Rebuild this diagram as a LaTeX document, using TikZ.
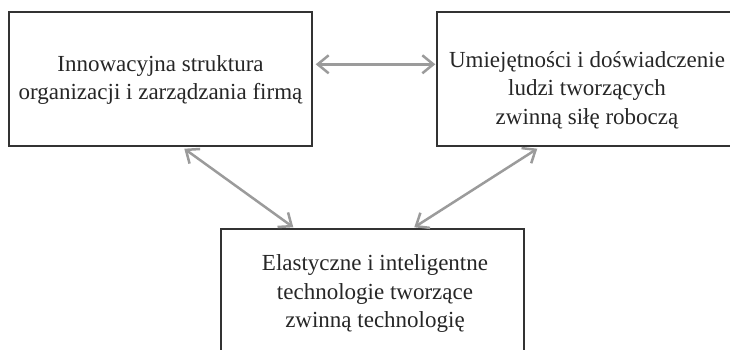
\documentclass[tikz,border=0pt]{standalone}
\usepackage{fontspec}
\setmainfont{Liberation Serif}
\usetikzlibrary{arrows.meta}
\definecolor{boxline}{HTML}{333333}
\definecolor{linkgray}{HTML}{9B9B9B}
\tikzset{
  box/.style={draw=boxline, line width=1.4pt, rectangle, inner sep=0pt},
  boxtext/.style={align=center, font=\fontsize{23}{28.5}\selectfont, text=black!85, inner sep=0pt},
  link/.style={draw=linkgray, line width=2.5pt,
    {Straight Barb[length=11pt,width=18pt]}-{Straight Barb[length=11pt,width=18pt]}}
}
\begin{document}
\begin{tikzpicture}[x=1pt,y=1pt]
  \useasboundingbox (0,0) rectangle (730,350);
  \clip (0,0) rectangle (730,350);

  % the three areas
  \node[box, minimum width=303pt, minimum height=134pt] (org) at (160.5,271) {};
  \node[box, minimum width=300pt, minimum height=134pt] (ppl) at (587,271) {};
  \node[box, minimum width=303pt, minimum height=134pt] (tech) at (372.5,54) {};

  \node[boxtext] (orgtxt) at (160.5,270) {Innowacyjna struktura\\organizacji i zarządzania firmą};
  \node[boxtext] (ppltxt) at (587,260) {Umiejętności i doświadczenie\\ludzi tworzących\\zwinną siłę roboczą};
  \node[boxtext] (techtxt) at (375,56) {Elastyczne i inteligentne\\technologie tworzące\\zwinną technologię};

  % attachment points on the box borders
  \coordinate (orgE) at ([xshift=3pt,yshift=-53pt]org.north east);
  \coordinate (pplW) at ([xshift=-1pt,yshift=-53pt]ppl.north west);
  \coordinate (orgS) at ([xshift=176pt,yshift=-2pt]org.south west);
  \coordinate (pplS) at ([xshift=101pt,yshift=-2pt]ppl.south west);
  \coordinate (techL) at ([xshift=73pt,yshift=1pt]tech.north west);
  \coordinate (techR) at ([xshift=194pt,yshift=1pt]tech.north west);

  % mutual links
  \draw[link] (orgE) -- (pplW);
  \draw[link] (orgS) -- (techL);
  \draw[link] (pplS) -- (techR);
\end{tikzpicture}
\end{document}
